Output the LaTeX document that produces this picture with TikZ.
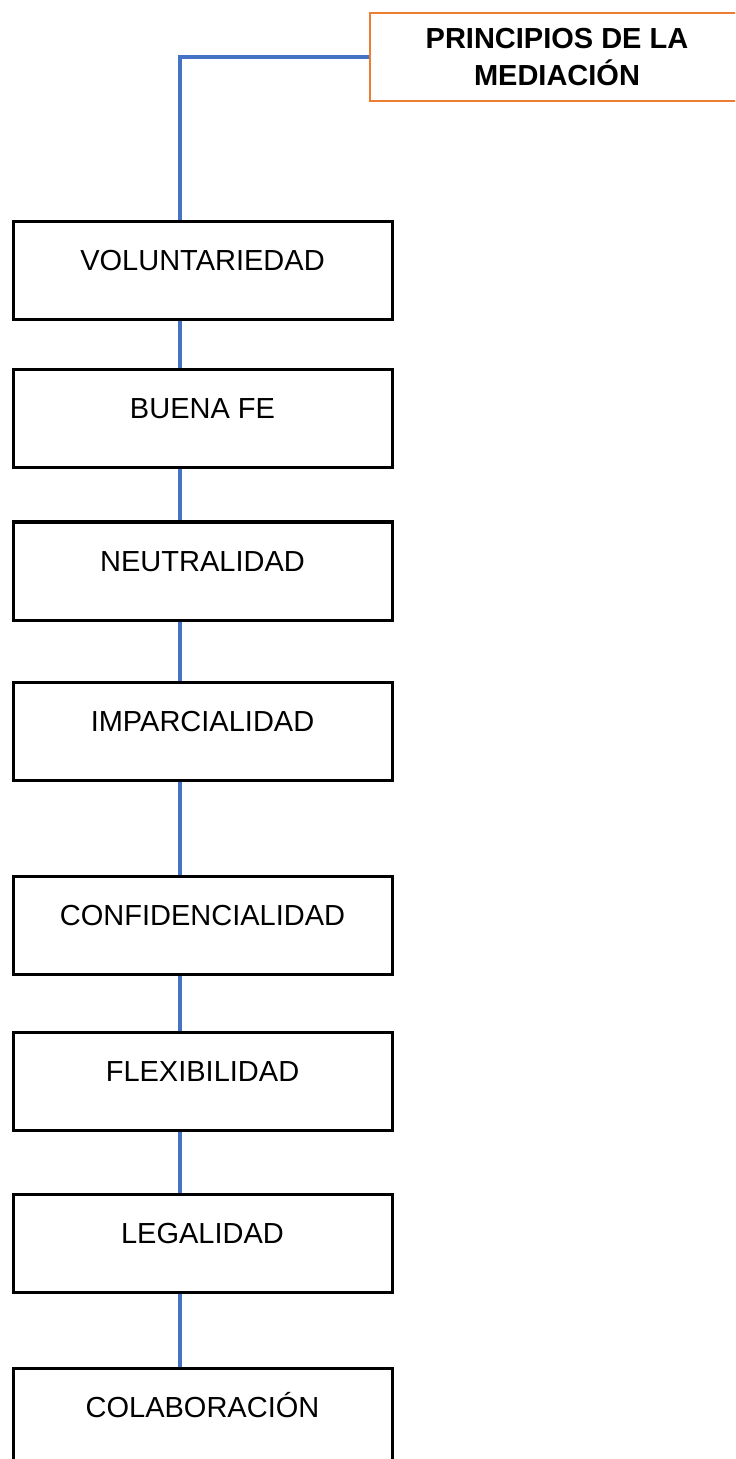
\documentclass[tikz,border=0pt]{standalone}
\usepackage{fontspec}
\setmainfont{Liberation Sans}
\definecolor{linkblue}{HTML}{4472C4}
\definecolor{headorange}{HTML}{ED7D31}
\begin{document}
\begin{tikzpicture}[x=0.5pt, y=0.5pt,
  principle/.style={draw, line width=1.5pt, inner sep=0pt, minimum width=189.5pt, minimum height=49pt,
    text height=24.5pt, text depth=24.5pt, font=\fontsize{14.5pt}{18.5pt}\selectfont},
  header/.style={draw=headorange, line width=1pt, inner sep=0pt, minimum width=187pt, minimum height=44pt,
    align=center, font=\fontsize{14.5pt}{18.5pt}\selectfont\bfseries},
  link/.style={draw=linkblue, line width=1.6pt}]
\clip (0, 0) rectangle (735, -1459);
\fill [white] (0, 0) rectangle (735, -1459);

\node (head) at (557, -57) [header] {PRINCIPIOS DE LA\\MEDIACIÓN};
\coordinate (spine) at (180, 0);

\node (vol) at (202.5, -271) [principle] {VOLUNTARIEDAD};
\node (fe) at (202.5, -419) [principle] {BUENA FE};
\node (neu) at (202.5, -571) [principle] {NEUTRALIDAD};
\node (imp) at (202.5, -731) [principle] {IMPARCIALIDAD};
\node (conf) at (202.5, -925) [principle] {CONFIDENCIALIDAD};
\node (flex) at (202.5, -1081) [principle] {FLEXIBILIDAD};
\node (leg) at (202.5, -1243) [principle] {LEGALIDAD};
\node (col) at (202.5, -1417) [principle] {COLABORACIÓN};

\draw [link] (head.west) -- (head.west -| spine) -- (vol.north -| spine);
\draw [link] (vol.south -| spine) -- (fe.north -| spine);
\draw [link] (fe.south -| spine) -- (neu.north -| spine);
\draw [link] (neu.south -| spine) -- (imp.north -| spine);
\draw [link] (imp.south -| spine) -- (conf.north -| spine);
\draw [link] (conf.south -| spine) -- (flex.north -| spine);
\draw [link] (flex.south -| spine) -- (leg.north -| spine);
\draw [link] (leg.south -| spine) -- (col.north -| spine);
\end{tikzpicture}
\end{document}
